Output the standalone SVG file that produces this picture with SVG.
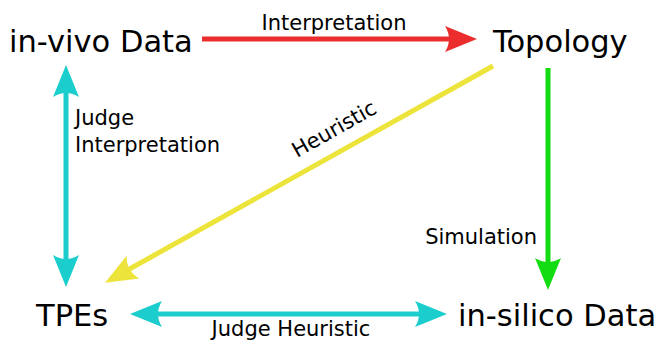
<svg xmlns="http://www.w3.org/2000/svg" width="659" height="345" viewBox="0 0 659 345">
<style>
.node{font-family:"DejaVu Sans",sans-serif;font-size:30.5px;fill:#000}
.lbl{font-family:"DejaVu Sans",sans-serif;font-size:21px;fill:#000}
.ln{fill:none;stroke-width:5}
</style>
<defs>
<marker id="mRed" markerUnits="userSpaceOnUse" markerWidth="40" markerHeight="30" viewBox="0 -15 34 30" refX="8" refY="0" orient="auto" overflow="visible"><path d="M0,-13 L32,0 L0,13 Q8,0 0,-13 Z" fill="#ec2d2d"/></marker>
<marker id="mYel" markerUnits="userSpaceOnUse" markerWidth="40" markerHeight="30" viewBox="0 -15 34 30" refX="8" refY="0" orient="auto" overflow="visible"><path d="M0,-13 L32,0 L0,13 Q8,0 0,-13 Z" fill="#ece43a"/></marker>
<marker id="mGrn" markerUnits="userSpaceOnUse" markerWidth="40" markerHeight="30" viewBox="0 -15 34 30" refX="8" refY="0" orient="auto" overflow="visible"><path d="M0,-13 L32,0 L0,13 Q8,0 0,-13 Z" fill="#13dc13"/></marker>
<marker id="mCyan" markerUnits="userSpaceOnUse" markerWidth="40" markerHeight="30" viewBox="0 -15 34 30" refX="8" refY="0" orient="auto-start-reverse" overflow="visible"><path d="M0,-13 L32,0 L0,13 Q8,0 0,-13 Z" fill="#1ccdcd"/></marker>
</defs>
<g id="connectors">
<g id="e-interp"><line class="ln" x1="202" y1="39" x2="453" y2="39" stroke="#ec2d2d" marker-end="url(#mRed)"/><text class="lbl" x="334" y="30" text-anchor="middle">Interpretation</text></g>
<g id="e-heur"><line class="ln" x1="493" y1="66" x2="126" y2="271" stroke="#ece43a" marker-end="url(#mYel)"/><text class="lbl" transform="translate(297,158) rotate(-29.3)">Heuristic</text></g>
<g id="e-sim"><line class="ln" x1="548" y1="68" x2="548" y2="266" stroke="#13dc13" marker-end="url(#mGrn)"/><text class="lbl" x="537" y="244" text-anchor="end">Simulation</text></g>
<g id="e-judgeinterp"><line class="ln" x1="66" y1="89" x2="66" y2="263" stroke="#1ccdcd" marker-start="url(#mCyan)" marker-end="url(#mCyan)"/><text class="lbl" x="75" y="125">Judge</text><text class="lbl" x="75" y="152">Interpretation</text></g>
<g id="e-judgeheur"><line class="ln" x1="154" y1="314" x2="423" y2="314" stroke="#1ccdcd" marker-start="url(#mCyan)" marker-end="url(#mCyan)"/><text class="lbl" x="291" y="336" text-anchor="middle">Judge Heuristic</text></g>
</g>
<g id="n-invivo"><text class="node" x="9" y="52">in-vivo Data</text></g>
<g id="n-topology"><text class="node" x="493" y="52">Topology</text></g>
<g id="n-tpes"><text class="node" x="36" y="326">TPEs</text></g>
<g id="n-insilico"><text class="node" x="458" y="326">in-silico Data</text></g>
</svg>
